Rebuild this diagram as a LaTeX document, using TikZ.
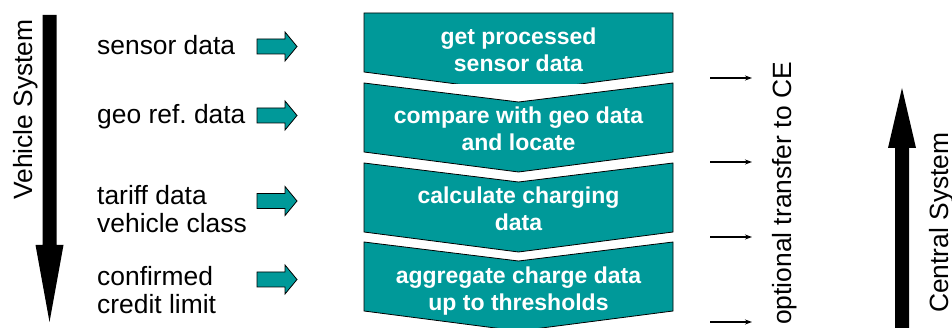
\documentclass[tikz,border=0pt]{standalone}
\usepackage{fontspec}
\setmainfont{Liberation Sans}
\usetikzlibrary{arrows.meta}
\definecolor{tealfill}{RGB}{0,153,153}
\frenchspacing
\begin{document}
\begin{tikzpicture}[x=1pt,y=-1pt,
  chev/.style={fill=tealfill,draw=black,line width=0.8pt},
  blockarr/.style={fill=tealfill,draw=black,line width=0.8pt},
  lbl/.style={font=\fontsize{26.4}{28}\selectfont,inner sep=0pt,align=left,anchor=base west},
  rlbl/.style={font=\fontsize{26.4}{28}\selectfont,inner sep=0pt,anchor=base west,rotate=90},
  ctext/.style={font=\fontsize{23}{27}\selectfont\bfseries,text=white,inner sep=0pt,align=center,anchor=base},
  xfer/.style={-{Stealth[length=7pt,width=5pt]},line width=1.2pt}
]
\useasboundingbox (0,0) rectangle (952,328);
% Vehicle System arrow
\fill[black] (42.5,15) -- (56.5,15) -- (56.5,245) -- (63.5,245) -- (49.5,322) -- (35.5,245) -- (42.5,245) -- cycle;
\node[rlbl] (vs) at (32,200) {Vehicle System};
% left labels
\node[lbl] (l1) at (97,54.5) {sensor data};
\node[lbl] (l2) at (97,124) {geo ref. data};
\node[lbl] (l3) at (97,233) {tariff data\\vehicle class};
\node[lbl] (l4) at (97,313) {confirmed\\credit limit};
% block arrows
\foreach \yy in {46.5,115.5,201,279.5}
  \draw[blockarr] (257,\yy-7.5) -- (285,\yy-7.5) -- (285,\yy-14.5) -- (297,\yy) -- (285,\yy+14.5) -- (285,\yy+7.5) -- (257,\yy+7.5) -- cycle;
% chevrons
\draw[chev] (364,13) -- (673,13) -- (673,72) -- (518.5,92) -- (364,72) -- cycle;
\fill[white] (426,84) rectangle (613,100);
\draw[chev] (364,83) -- (518.5,102) -- (673,83) -- (673,152) -- (518.5,172) -- (364,152) -- cycle;
\draw[chev] (364,163) -- (518.5,182) -- (673,163) -- (673,232) -- (518.5,252) -- (364,232) -- cycle;
\draw[chev] (364,242) -- (518.5,261) -- (673,242) -- (673,311) -- (518.5,331) -- (364,311) -- cycle;
\node[ctext] (c1) at (518.5,72) {get processed\\sensor data};
\node[ctext] (c2) at (518.5,151) {compare with geo data\\and locate};
\node[ctext] (c3) at (518.5,231) {calculate charging\\data};
\node[ctext] (c4) at (518.5,310) {aggregate charge data\\up to thresholds};
% transfer arrows
\foreach \yy [count=\i] in {78,162,237,322} {
  \coordinate (ts\i) at (710,\yy);
  \coordinate (te\i) at (752,\yy);
  \draw[xfer] (ts\i) -- (te\i);
}
\node[rlbl] (opt) at (791,325) {optional transfer to CE};
% Central System arrow
\fill[black] (895,330) -- (909,330) -- (909,148) -- (916,148) -- (902,88) -- (888,148) -- (895,148) -- cycle;
\node[rlbl] (cs) at (948,313) {Central System};
\end{tikzpicture}
\end{document}
